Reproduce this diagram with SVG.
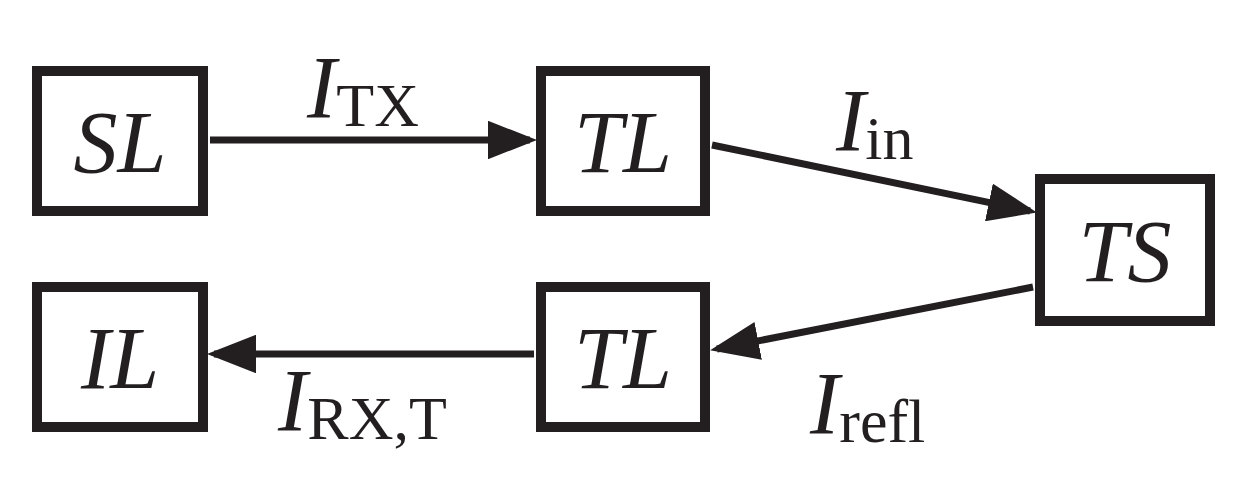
<svg xmlns="http://www.w3.org/2000/svg" width="1241" height="488" viewBox="0 0 1241 488">
<style>
.box{fill:#fff;stroke:#231f20;stroke-width:10}
.bt{font-family:"Liberation Serif",serif;font-style:italic;font-size:88px;fill:#231f20;text-anchor:middle}
.lb{font-family:"Liberation Serif",serif;font-size:88px;fill:#231f20}
.it{font-style:italic}
.sub{font-size:62px}
.c{stroke:#231f20;stroke-width:7;fill:none}
</style>
<defs><marker id="a" markerWidth="7" markerHeight="5.5" refX="6" refY="2.75" orient="auto" markerUnits="strokeWidth"><path d="M0,0L7,2.75L0,5.5z" fill="#231f20"/></marker></defs>
<rect width="1241" height="488" fill="#fff"/>
<g id="connectors">
<line class="c" x1="210" y1="140" x2="530" y2="140" marker-end="url(#a)"/>
<line class="c" x1="712" y1="145" x2="1030" y2="211" marker-end="url(#a)"/>
<line class="c" x1="1033" y1="287" x2="717" y2="349" marker-end="url(#a)"/>
<line class="c" x1="534" y1="354" x2="214" y2="354" marker-end="url(#a)"/>
</g>
<g id="SL"><rect class="box" x="37" y="71" width="166" height="140"/><text class="bt" x="120" y="172">SL</text></g>
<g id="TL1"><rect class="box" x="541" y="71" width="164" height="140"/><text class="bt" x="623" y="172">TL</text></g>
<g id="TS"><rect class="box" x="1040" y="179" width="170" height="142"/><text class="bt" x="1125" y="281">TS</text></g>
<g id="IL"><rect class="box" x="37" y="287" width="166" height="140"/><text class="bt" x="120" y="388">IL</text></g>
<g id="TL2"><rect class="box" x="541" y="287" width="164" height="140"/><text class="bt" x="623" y="388">TL</text></g>
<g id="labels">
<text class="lb" x="307" y="117"><tspan class="it">I</tspan><tspan class="sub" dy="9">TX</tspan></text>
<text class="lb" x="836" y="150"><tspan class="it">I</tspan><tspan class="sub" dy="9">in</tspan></text>
<text class="lb" x="810" y="433"><tspan class="it">I</tspan><tspan class="sub" dy="9">refl</tspan></text>
<text class="lb" x="278" y="430"><tspan class="it">I</tspan><tspan class="sub" dy="9">RX,T</tspan></text>
</g>
</svg>
